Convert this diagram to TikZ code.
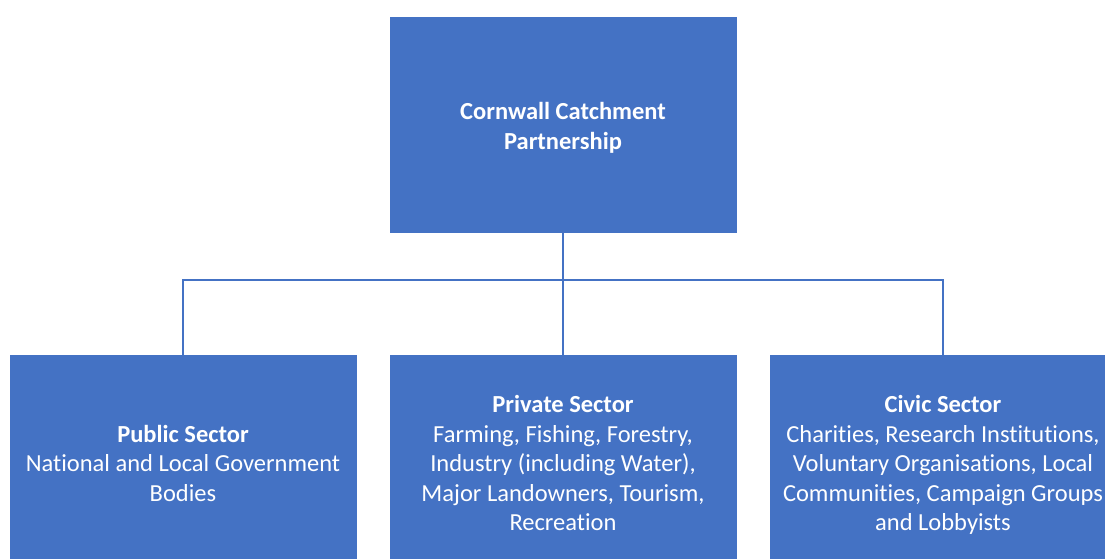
\documentclass[tikz,border=0pt]{standalone}
\usepackage{fontspec}
\setmainfont{Carlito}[Ligatures={NoCommon}]
\definecolor{boxblue}{HTML}{4472C4}
\begin{document}
\begin{tikzpicture}[x=1pt,y=-1pt,
  orgbox/.style={draw=boxblue,fill=boxblue,line width=0.8pt,minimum width=346pt,minimum height=215pt,
    inner sep=0pt,text=white,align=center,font=\fontsize{24.5}{29.5}\selectfont},
  link/.style={draw=boxblue,line width=2.8pt}]
\useasboundingbox (0,0) rectangle (1105,559);
\node[orgbox] (top) at (563,124.5) {\rule{0pt}{23pt}\textbf{Cornwall Catchment}\\[0.5pt]\textbf{Partnership}};
\node[orgbox] (left) at (183,463) {\textbf{Public Sector}\\National and Local Government\\Bodies};
\node[orgbox] (mid) at (563,463) {\textbf{Private Sector}\\Farming, Fishing, Forestry,\\Industry (including Water),\\Major Landowners, Tourism,\\Recreation};
\node[orgbox] (right) at (943,463) {\rule{0pt}{21pt}\textbf{Civic Sector}\\Charities, Research Institutions,\\Voluntary Organisations, Local\\Communities, Campaign Groups\\and Lobbyists};
\coordinate (bus) at (563,280);
\draw[link] (top.south) -- (mid.north);
\draw[link] (left.north) |- (bus) -| (right.north);
\end{tikzpicture}
\end{document}
